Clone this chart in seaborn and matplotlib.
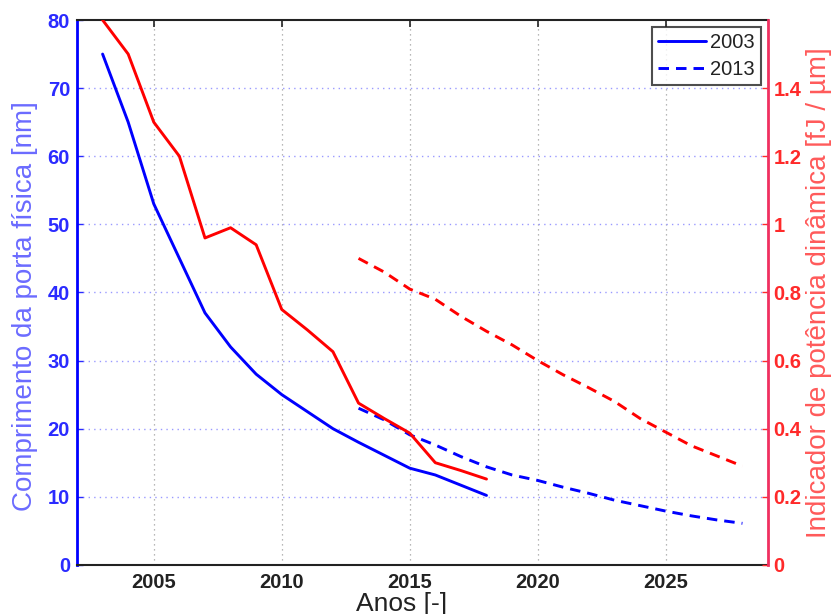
import matplotlib
matplotlib.use("Agg")
import matplotlib.pyplot as plt
import seaborn as sns
import pandas as pd
from matplotlib.lines import Line2D

# Gate length roadmap (nm)
years_2003 = [2003, 2004, 2005, 2006, 2007, 2008, 2009, 2010, 2011, 2012,
              2013, 2014, 2015, 2016, 2017, 2018]
gate_2003 = [75, 65, 53, 45, 37, 32, 28, 25, 22.5, 20, 18, 16.1, 14.2, 13.2, 11.7, 10.2]
power_2003 = [1.60, 1.50, 1.30, 1.20, 0.96, 0.99, 0.94, 0.75, 0.69, 0.626,
              0.475, 0.43, 0.387, 0.30, 0.277, 0.252]

years_2013 = [2013, 2014, 2015, 2016, 2017, 2018, 2019, 2020, 2021, 2022,
              2023, 2024, 2025, 2026, 2027, 2028]
gate_2013 = [23.0, 21.3, 19.1, 17.6, 15.9, 14.4, 13.2, 12.4, 11.4, 10.5,
             9.5, 8.7, 7.9, 7.2, 6.6, 6.1]
power_2013 = [0.90, 0.86, 0.81, 0.78, 0.73, 0.686, 0.646, 0.60, 0.558, 0.52,
              0.48, 0.43, 0.39, 0.35, 0.32, 0.29]

legend_labels = ["2003", "2013"]
left_ticks = [0, 10, 20, 30, 40, 50, 60, 70, 80]
right_ticks = [0, 0.2, 0.4, 0.6, 0.8, 1.0, 1.2, 1.4]
right_tick_labels = ["0", "0.2", "0.4", "0.6", "0.8", "1", "1.2", "1.4"]
x_ticks = [2005, 2010, 2015, 2020, 2025]

sns.set_style("white")
plt.rcParams["font.family"] = ["Liberation Sans", "DejaVu Sans"]

df_a = pd.DataFrame({"ano": years_2003, "gate": gate_2003, "power": power_2003})
df_b = pd.DataFrame({"ano": years_2013, "gate": gate_2013, "power": power_2013})

fig = plt.figure(figsize=(8.37, 6.14), dpi=100)
ax = fig.add_axes([0.092, 0.080, 0.8256, 0.8874])
ax2 = ax.twinx()

blue = "#0000ff"
red = "#ff0000"
lw = 2.1
dash = (3.6, 2.4)

sns.lineplot(data=df_a, x="ano", y="gate", ax=ax, color=blue, linewidth=lw)
sns.lineplot(data=df_b, x="ano", y="gate", ax=ax, color=blue, linewidth=lw)
ax.lines[-1].set_dashes(dash)

sns.lineplot(data=df_a, x="ano", y="power", ax=ax2, color=red, linewidth=lw)
sns.lineplot(data=df_b, x="ano", y="power", ax=ax2, color=red, linewidth=lw)
ax2.lines[-1].set_dashes(dash)

ax.set_xlim(2002, 2029)
ax.set_ylim(0, 80)
ax2.set_ylim(0, 1.6)

ax.set_xticks(x_ticks)
ax.set_yticks(left_ticks)
ax2.set_yticks(right_ticks)
ax2.set_yticklabels(right_tick_labels)

# grid: vertical grey dotted, horizontal blue dotted
ax.grid(False)
ax2.grid(False)
for xv in x_ticks:
    ax.axvline(xv, color="#a0a0a0", linestyle=(0, (1, 3)), linewidth=0.9, zorder=0)
for yv in left_ticks[1:-1]:
    ax.axhline(yv, color="#9a9aff", linestyle=(0, (1, 3)), linewidth=1.0, zorder=0)

tick_font = 14.5
ax.tick_params(axis="x", direction="in", top=True, length=5, width=1.2,
               labelsize=tick_font, colors="#222222", pad=6)
ax.tick_params(axis="y", direction="in", length=4, width=1, labelsize=tick_font,
               colors="#2b2bff", pad=5)
ax2.tick_params(axis="y", direction="in", length=4, width=1, labelsize=tick_font,
                colors="#ff2a2a", pad=4)
for lab in ax.get_xticklabels() + ax.get_yticklabels() + ax2.get_yticklabels():
    lab.set_fontweight("bold")

for sp in ["top", "bottom"]:
    ax.spines[sp].set_color("#222222")
    ax.spines[sp].set_linewidth(1.5)
    ax2.spines[sp].set_visible(False)
ax.spines["left"].set_color(blue)
ax.spines["left"].set_linewidth(2.0)
ax.spines["right"].set_visible(False)
ax2.spines["left"].set_visible(False)
ax2.spines["right"].set_color("#f03060")
ax2.spines["right"].set_linewidth(2.0)

label_font = 20
ax.set_xlabel("Anos [-]", fontsize=19, color="#222222")
ax.xaxis.set_label_coords(0.47, -0.049)
ax.set_ylabel("Comprimento da porta física [nm]", fontsize=label_font,
              color="#6b6bff")
ax.yaxis.set_label_coords(-0.056, 0.475)
ax2.set_ylabel("Indicador de potência dinâmica [fJ / µm]", fontsize=label_font,
               color="#ff5a5a")
ax2.yaxis.set_label_coords(1.055, 0.5)

handles = [Line2D([0], [0], color=blue, linewidth=lw),
           Line2D([0], [0], color=blue, linewidth=lw, dashes=dash)]
leg = ax2.legend(handles, legend_labels, loc="upper right", fontsize=14.5,
                 frameon=True, fancybox=False, handlelength=2.4,
                 borderaxespad=0.35, handletextpad=0.2, labelspacing=0.4,
                 borderpad=0.3)
leg.get_frame().set_edgecolor("#222222")
leg.get_frame().set_linewidth(1.5)
for t in leg.get_texts():
    t.set_color("#222222")

fig.savefig("out.png", dpi=100)
